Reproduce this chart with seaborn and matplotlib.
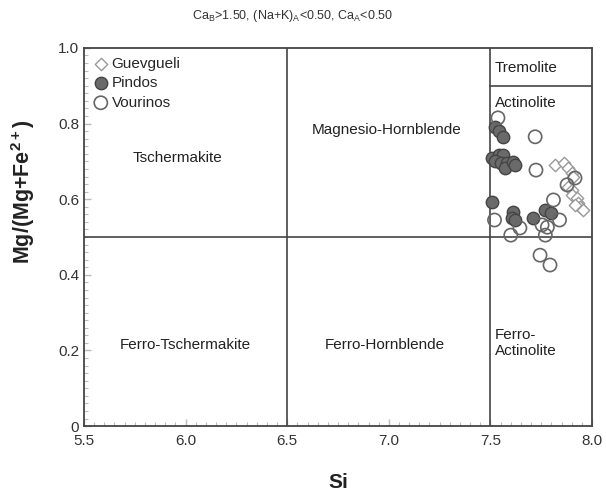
import numpy as np
import pandas as pd
import matplotlib
matplotlib.use("Agg")
import matplotlib.pyplot as plt
import seaborn as sns
from matplotlib.ticker import MultipleLocator

# -----------------------------
# DATA
# -----------------------------
guev_si = [7.82, 7.86, 7.88, 7.90, 7.907, 7.88, 7.90, 7.90, 7.926, 7.93, 7.94, 7.956, 7.916]
guev_mg = [0.690, 0.696, 0.683, 0.669, 0.659, 0.632, 0.624, 0.611, 0.603, 0.590, 0.579, 0.571, 0.585]

pind_si = [7.52, 7.54, 7.56, 7.51, 7.54, 7.56, 7.52, 7.55, 7.58, 7.57, 7.61, 7.62,
           7.51, 7.61, 7.605, 7.62, 7.71, 7.77, 7.80]
pind_mg = [0.790, 0.780, 0.765, 0.710, 0.717, 0.717, 0.700, 0.695, 0.695, 0.683, 0.698, 0.690,
           0.593, 0.566, 0.550, 0.545, 0.550, 0.571, 0.563]

vour_si = [7.537, 7.72, 7.724, 7.916, 7.877, 7.81, 7.84, 7.52, 7.60, 7.645, 7.754, 7.78,
           7.77, 7.744, 7.793]
vour_mg = [0.815, 0.765, 0.677, 0.656, 0.638, 0.598, 0.545, 0.545, 0.505, 0.524, 0.532, 0.526,
           0.505, 0.452, 0.426]

# field boundaries and labels
si_splits = [6.5, 7.5]
mg_split = 0.5
tremolite_mg = 0.9

title = r"Ca$_\mathrm{B}$>1.50, (Na+K)$_\mathrm{A}$<0.50, Ca$_\mathrm{A}$<0.50"

# -----------------------------
# STYLE
# -----------------------------
sns.set_theme(style="ticks")
plt.rcParams["font.family"] = ["Liberation Sans", "DejaVu Sans"]
plt.rcParams["mathtext.fontset"] = "custom"
plt.rcParams["mathtext.rm"] = "Liberation Sans"
plt.rcParams["mathtext.bf"] = "Liberation Sans:bold"

line_col = "#444444"

fig = plt.figure(figsize=(6.06, 4.99), dpi=100)
ax = fig.add_axes([0.1386, 0.146, 0.8384, 0.758])

df = pd.concat([
    pd.DataFrame({"Si": guev_si, "Mg": guev_mg, "group": "Guevgueli"}),
    pd.DataFrame({"Si": pind_si, "Mg": pind_mg, "group": "Pindos"}),
    pd.DataFrame({"Si": vour_si, "Mg": vour_mg, "group": "Vourinos"}),
])

sns.scatterplot(data=df[df.group == "Guevgueli"], x="Si", y="Mg", marker="D", s=40,
                facecolor="white", edgecolor="#999999", linewidth=1.0,
                label="Guevgueli", ax=ax, zorder=3)
sns.scatterplot(data=df[df.group == "Pindos"], x="Si", y="Mg", marker="o", s=80,
                color="#6a6a6a", edgecolor="#444444", linewidth=1.0,
                label="Pindos", ax=ax, zorder=4)
sns.scatterplot(data=df[df.group == "Vourinos"], x="Si", y="Mg", marker="o", s=90,
                facecolor="none", edgecolor="#666666", linewidth=1.2,
                label="Vourinos", ax=ax, zorder=5)

# field boundaries
for s in si_splits:
    ax.axvline(s, color=line_col, lw=1.2, zorder=2)
ax.axhline(mg_split, color=line_col, lw=1.2, zorder=2)
ax.plot([7.5, 8.0], [tremolite_mg, tremolite_mg], color=line_col, lw=1.2, zorder=2)

# field names
fs = 11
ax.text(5.96, 0.71, "Tschermakite", ha="center", va="center", fontsize=fs, color="#222222")
ax.text(6.99, 0.783, "Magnesio-Hornblende", ha="center", va="center", fontsize=fs, color="#222222")
ax.text(6.0, 0.215, "Ferro-Tschermakite", ha="center", va="center", fontsize=fs, color="#222222")
ax.text(6.98, 0.215, "Ferro-Hornblende", ha="center", va="center", fontsize=fs, color="#222222")
ax.text(7.52, 0.947, "Tremolite", ha="left", va="center", fontsize=fs, color="#222222")
ax.text(7.52, 0.855, "Actinolite", ha="left", va="center", fontsize=fs, color="#222222")
ax.text(7.52, 0.22, "Ferro-\nActinolite", ha="left", va="center", fontsize=fs,
        color="#222222", linespacing=1.2)

ax.set_xlim(5.5, 8.0)
ax.set_ylim(0, 1.0)
ax.xaxis.set_major_locator(MultipleLocator(0.5))
ax.xaxis.set_minor_locator(MultipleLocator(0.05))
ax.yaxis.set_major_locator(MultipleLocator(0.2))
ax.yaxis.set_minor_locator(MultipleLocator(0.02))
ax.set_xticklabels([f"{v:.1f}" for v in ax.get_xticks()])
ax.set_yticks([0, 0.2, 0.4, 0.6, 0.8, 1.0])
ax.set_yticklabels(["0", "0.2", "0.4", "0.6", "0.8", "1.0"])
ax.tick_params(which="both", direction="in", colors="#bbbbbb", labelcolor="#333333",
               labelsize=11, top=False, right=False)
ax.tick_params(which="major", length=5, width=1)
ax.tick_params(which="minor", length=3, width=0.8)
ax.tick_params(axis="x", pad=6)
for sp in ax.spines.values():
    sp.set_color(line_col)
    sp.set_linewidth(1.3)

ax.set_xlabel("Si", fontsize=15, fontweight="bold", color="#222222")
ax.xaxis.set_label_coords(0.5, -0.125)
ax.set_ylabel(r"Mg/(Mg+Fe$^{\mathbf{2+}}$)", fontsize=15.5, fontweight="bold",
              color="#222222")
ax.yaxis.set_label_coords(-0.092, 0.62)

leg = ax.legend(loc="upper left", frameon=False, fontsize=11, handletextpad=0.2,
                borderaxespad=0.3, labelspacing=0.35, handlelength=1.0,
                borderpad=0.3)

fig.text(0.482, 0.968, title, ha="center", va="center", fontsize=9, color="#333333")

fig.savefig("out.png", dpi=100)
